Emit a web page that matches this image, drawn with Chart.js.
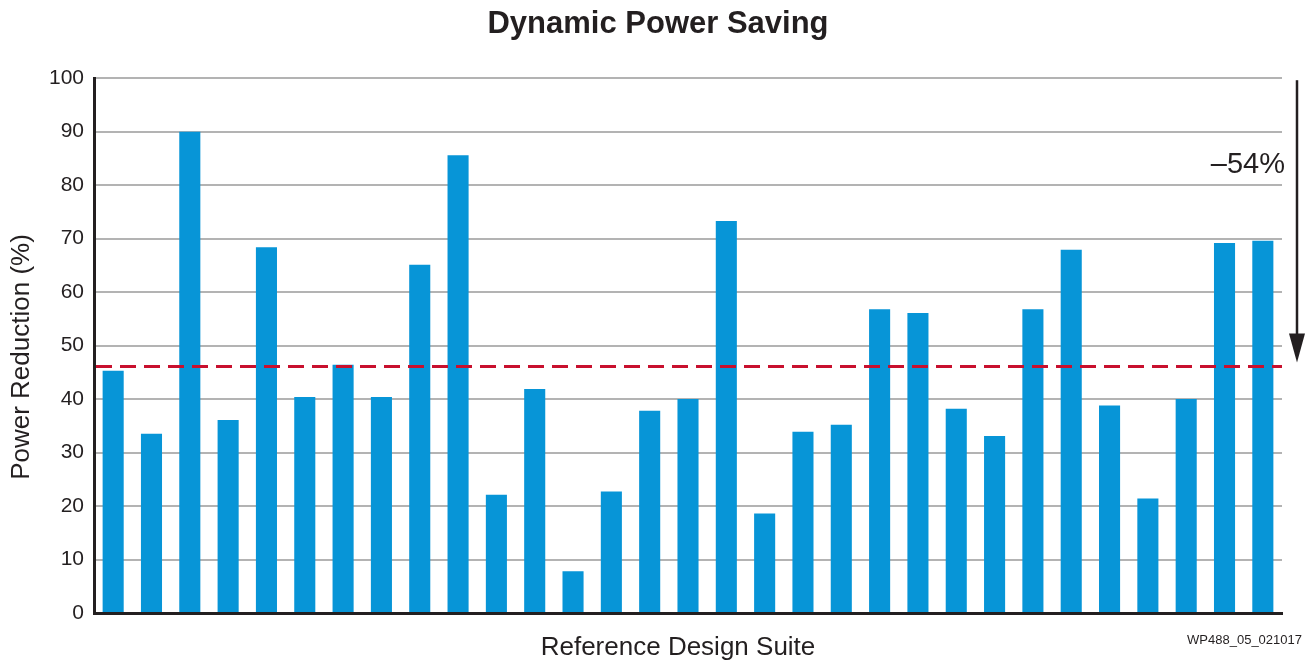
<!DOCTYPE html>
<html>
<head>
<meta charset="utf-8">
<script src="https://cdn.jsdelivr.net/npm/chart.js@4/dist/chart.umd.min.js"></script>
<style>
  html, body { margin: 0; padding: 0; background: #ffffff; }
  #wrap { position: relative; width: 1316px; height: 664px; }
</style>
</head>
<body>
<div id="wrap"><canvas id="c" width="1316" height="664"></canvas></div>
<script>
// ---- Data ----
const categories = ['D1','D2','D3','D4','D5','D6','D7','D8','D9','D10','D11','D12','D13','D14','D15','D16',
                    'D17','D18','D19','D20','D21','D22','D23','D24','D25','D26','D27','D28','D29','D30','D31'];
const powerReduction = [45.3, 33.5, 90.0, 36.1, 68.4, 40.4, 46.4, 40.4, 65.1, 85.6, 22.1, 41.9, 7.8, 22.7, 37.8, 40.0,
                        73.3, 18.6, 33.9, 35.2, 56.8, 56.1, 38.2, 33.1, 56.8, 67.9, 38.8, 21.4, 40.0, 69.2, 69.6];
const averageLine = [46.1];
const arrowRange = [100, 46.1];
const yTicks = [0, 10, 20, 30, 40, 50, 60, 70, 80, 90, 100];
const titleText = 'Dynamic Power Saving';
const yTitleText = 'Power Reduction (%)';
const xTitleText = 'Reference Design Suite';
const savingLabel = '\u201354%';
const figureId = 'WP488_05_021017';

const FONT = "'Liberation Sans', Arial, Helvetica, sans-serif";
const INK = '#231f20';

const overlayPlugin = {
  id: 'overlay',
  afterDatasetsDraw(chart) {
    const { ctx, chartArea, scales } = chart;
    const y = scales.y;
    ctx.save();
    // dashed average line
    const ay = y.getPixelForValue(averageLine[0]);
    ctx.strokeStyle = '#c8102e';
    ctx.lineWidth = 3;
    ctx.setLineDash([16, 8]);
    ctx.beginPath();
    ctx.moveTo(chartArea.left + 2, ay);
    ctx.lineTo(chartArea.right, ay);
    ctx.stroke();
    ctx.setLineDash([]);

    // arrow
    const ax = chartArea.right + 15;
    const y0 = y.getPixelForValue(arrowRange[0]) + 2;
    const y1 = y.getPixelForValue(arrowRange[1]) - 4;
    const headH = 29, headW = 16;
    ctx.strokeStyle = INK;
    ctx.fillStyle = INK;
    ctx.lineWidth = 2.5;
    ctx.beginPath();
    ctx.moveTo(ax, y0);
    ctx.lineTo(ax, y1 - headH + 2);
    ctx.stroke();
    ctx.beginPath();
    ctx.moveTo(ax - headW / 2, y1 - headH);
    ctx.lineTo(ax + headW / 2, y1 - headH);
    ctx.lineTo(ax, y1);
    ctx.closePath();
    ctx.fill();

    // saving label
    ctx.font = '29px ' + FONT;
    ctx.textAlign = 'right';
    ctx.textBaseline = 'middle';
    ctx.fillStyle = INK;
    ctx.fillText(savingLabel, chartArea.right + 3, chartArea.top + 87);

    // x axis title
    ctx.font = '26px ' + FONT;
    ctx.textAlign = 'center';
    ctx.textBaseline = 'middle';
    ctx.fillText(xTitleText, 678, 648);

    // y axis title
    ctx.save();
    ctx.translate(22, 357);
    ctx.rotate(-Math.PI / 2);
    ctx.font = '26px ' + FONT;
    ctx.textAlign = 'center';
    ctx.textBaseline = 'middle';
    ctx.fillText(yTitleText, 0, 0);
    ctx.restore();

    // figure id
    ctx.font = '13px ' + FONT;
    ctx.textAlign = 'right';
    ctx.textBaseline = 'middle';
    ctx.fillText(figureId, chart.width - 14, 640);
    ctx.restore();
  }
};

new Chart(document.getElementById('c'), {
  type: 'bar',
  data: {
    labels: categories,
    datasets: [{
      data: powerReduction,
      backgroundColor: '#0795d7',
      borderWidth: 0,
      categoryPercentage: 1.0,
      barPercentage: 0.55
    }]
  },
  options: {
    responsive: false,
    animation: false,
    layout: { padding: { top: 0, left: 0, right: 0, bottom: 0 } },
    plugins: {
      legend: { display: false },
      tooltip: { enabled: false },
      title: {
        display: true,
        text: titleText,
        color: INK,
        font: { family: FONT, size: 31, weight: 'bold', lineHeight: 1.2 },
        padding: { top: 6, bottom: 35 }
      }
    },
    scales: {
      x: {
        grid: { display: false, drawTicks: false },
        border: { display: true, color: INK, width: 3 },
        ticks: { display: false },
        title: { display: false },
        afterFit(scale) { scale.height = 51; }
      },
      y: {
        min: 0,
        max: 100,
        afterBuildTicks(scale) { scale.ticks = yTicks.map(v => ({ value: v })); },
        grid: { color: '#b3b3b3', lineWidth: 2, drawTicks: false },
        border: { display: true, color: INK, width: 3 },
        ticks: {
          color: INK,
          padding: 10,
          font: { family: FONT, size: 21 }
        },
        title: { display: false },
        afterFit(scale) { scale.width = 94; }
      },
      yRight: {
        position: 'right',
        display: true,
        min: 0,
        max: 100,
        grid: { display: false, drawTicks: false },
        border: { display: false },
        ticks: { display: false },
        afterFit(scale) { scale.width = 34; }
      }
    }
  },
  plugins: [overlayPlugin]
});
</script>
</body>
</html>
